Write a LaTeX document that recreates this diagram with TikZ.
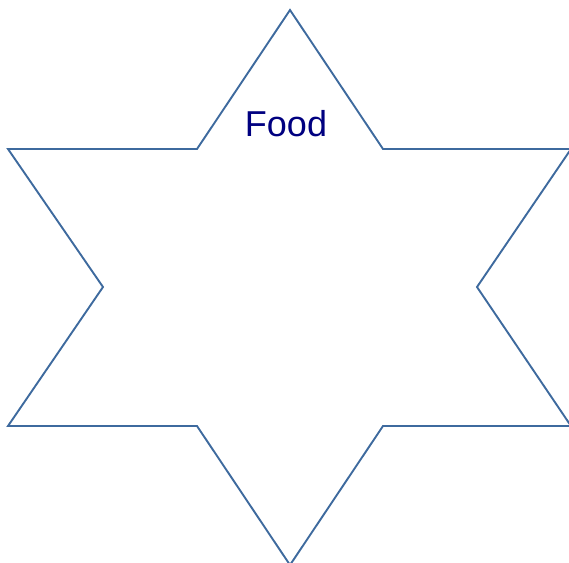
\documentclass[tikz,border=0pt]{standalone}
\usepackage{fontspec}
\setmainfont{Liberation Sans}
\definecolor{starline}{RGB}{62,106,158}
\definecolor{foodtext}{RGB}{0,0,128}

\begin{document}
\begin{tikzpicture}[x=1pt, y=-1pt]
    \useasboundingbox (0,0) rectangle (569,562);
    \draw[starline, line width=1.9pt, line join=miter]
        (290,10) -- (383,149) -- (571,149) -- (477,287) -- (571,426) -- (383,426)
        -- (290,565) -- (197,426) -- (8,426) -- (103,287) -- (8,149) -- (197,149) -- cycle;
    \node[text=foodtext, font=\fontsize{36}{40}\selectfont] (food) at (286,124) {Food};
\end{tikzpicture}
\end{document}
